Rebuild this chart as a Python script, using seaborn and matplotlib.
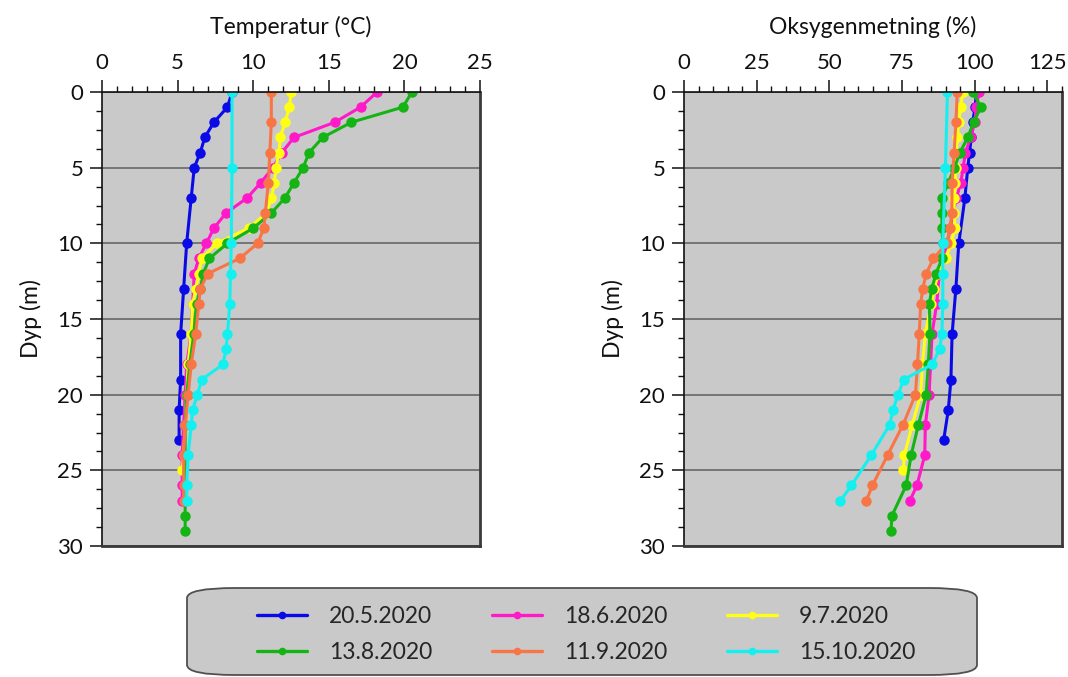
import numpy as np
import pandas as pd
import matplotlib
matplotlib.use("Agg")
import matplotlib.pyplot as plt
import seaborn as sns
from matplotlib.lines import Line2D
from matplotlib.patches import FancyBboxPatch
from matplotlib.ticker import MultipleLocator

# ---------------- data ----------------
dates = ["20.5.2020", "18.6.2020", "9.7.2020", "13.8.2020", "11.9.2020", "15.10.2020"]
colors = ["#0a0ae6", "#ff19c8", "#ffff14", "#14b414", "#f87646", "#14f0f0"]

depth_0520 = [0, 1, 2, 3, 4, 5, 7, 10, 13, 16, 19, 21, 23]
temp_0520 = [8.6, 8.3, 7.4, 6.8, 6.5, 6.1, 5.9, 5.6, 5.4, 5.2, 5.2, 5.1, 5.1]
oxy_0520 = [100.6, 100.1, 99.3, 98.8, 98.2, 97.6, 96.6, 94.5, 93.5, 92.2, 91.8, 90.9, 89.3]

depth_0618 = [0, 1, 2, 3, 4, 5, 6, 7, 8, 9, 10, 11, 12, 14, 16, 18, 20, 22, 24, 26, 27]
temp_0618 = [18.2, 17.1, 15.4, 12.7, 11.9, 11.3, 10.5, 9.6, 8.2, 7.4, 6.9, 6.4, 6.1, 6.0, 5.9,
             5.6, 5.5, 5.4, 5.3, 5.3, 5.3]
oxy_0618 = [101.4, 100.5, 100.0, 98.6, 96.8, 96.0, 95.2, 93.7, 92.5, 91.5, 90.5, 89.0, 87.8,
            86.9, 85.3, 84.8, 84.3, 83.0, 82.8, 80.1, 77.7]

depth_0709 = [0, 1, 2, 3, 4, 5, 6, 7, 8, 9, 10, 11, 12, 13, 14, 16, 18, 20, 22, 24, 25]
temp_0709 = [12.5, 12.4, 12.1, 11.8, 11.7, 11.5, 11.4, 11.2, 10.9, 9.7, 7.6, 6.6, 6.4, 6.2,
             6.0, 5.9, 5.7, 5.6, 5.5, 5.4, 5.3]
oxy_0709 = [95.9, 95.1, 94.5, 94.0, 93.7, 93.4, 93.2, 93.0, 92.9, 93.1, 91.9, 90.0, 87.5,
            86.0, 85.0, 83.0, 82.0, 81.4, 78.5, 75.8, 75.4]

depth_0813 = [0, 1, 2, 3, 4, 5, 6, 7, 8, 9, 10, 11, 12, 13, 14, 16, 18, 20, 22, 24, 26, 28, 29]
temp_0813 = [20.5, 19.9, 16.5, 14.6, 13.7, 13.3, 12.7, 12.1, 11.2, 10.0, 8.3, 7.1, 6.7, 6.5,
             6.25, 6.07, 5.8, 5.6, 5.5, 5.5, 5.5, 5.5, 5.5]
oxy_0813 = [99.4, 102.1, 99.6, 97.6, 94.9, 93.0, 90.9, 88.7, 88.7, 88.7, 89.0, 88.7, 86.7,
            85.2, 84.4, 84.6, 84.0, 83.3, 80.6, 78.1, 76.4, 71.5, 71.2]

depth_0911 = [0, 2, 4, 6, 8, 9, 10, 11, 12, 13, 14, 16, 18, 20, 22, 24, 26, 27]
temp_0911 = [11.2, 11.2, 11.1, 11.0, 10.8, 10.7, 10.3, 9.1, 7.0, 6.5, 6.4, 6.2, 5.9, 5.7,
             5.5, 5.4, 5.4, 5.4]
oxy_0911 = [94.0, 93.5, 92.9, 92.2, 92.1, 91.5, 90.4, 85.8, 83.3, 82.1, 81.4, 80.9, 80.3,
            79.6, 75.3, 70.0, 64.8, 62.7]

depth_1015 = [0, 5, 10, 12, 14, 16, 17, 18, 19, 20, 21, 22, 24, 26, 27]
temp_1015 = [8.6, 8.6, 8.55, 8.5, 8.45, 8.3, 8.2, 8.0, 6.6, 6.3, 6.0, 5.9, 5.7, 5.6, 5.6]
oxy_1015 = [90.6, 89.9, 89.0, 89.0, 89.0, 88.7, 87.9, 85.3, 75.6, 73.6, 71.9, 70.7, 64.4,
            57.6, 53.8]

x_titles = ["Temperatur (°C)", "Oksygenmetning (%)"]
y_title = "Dyp (m)"

# ---------------- build table ----------------
all_depths = [depth_0520, depth_0618, depth_0709, depth_0813, depth_0911, depth_1015]
all_temps = [temp_0520, temp_0618, temp_0709, temp_0813, temp_0911, temp_1015]
all_oxys = [oxy_0520, oxy_0618, oxy_0709, oxy_0813, oxy_0911, oxy_1015]

rows = []
for date, ds, ts, os_ in zip(dates, all_depths, all_temps, all_oxys):
    for d, t, o in zip(ds, ts, os_):
        rows.append({"date": date, "depth": d, "temp": t, "oxy": o})
df = pd.DataFrame(rows)
palette = dict(zip(dates, colors))

# ---------------- style ----------------
sns.set_style("ticks")
plt.rcParams["font.family"] = ["Lato", "DejaVu Sans"]

W, H = 1068, 677
fig = plt.figure(figsize=(W / 100, H / 100), dpi=100)
bg = "#c9c9c9"

ax1 = fig.add_axes([102 / W, 1 - 546 / H, 378 / W, 454 / H])
ax2 = fig.add_axes([684 / W, 1 - 546 / H, 378 / W, 454 / H])

settings = [
    (ax1, "temp", (0, 25), 5, 1, x_titles[0]),
    (ax2, "oxy", (0, 130), 25, 5, x_titles[1]),
]

for ax, col, xlim, major, minor, title in settings:
    sns.lineplot(data=df, x=col, y="depth", hue="date", hue_order=dates, palette=palette,
                 orient="y", estimator=None, marker="o", markersize=7.5,
                 markeredgewidth=0, linewidth=2.2, legend=False, ax=ax)
    ax.set_facecolor(bg)
    ax.set_xlim(*xlim)
    ax.set_ylim(30, 0)
    ax.xaxis.tick_top()
    ax.xaxis.set_label_position("top")
    ax.xaxis.set_minor_locator(MultipleLocator(minor))
    ax.set_xticks(np.arange(0, (125.1 if col == "oxy" else 25.1), major))
    ax.yaxis.set_major_locator(MultipleLocator(5))
    ax.yaxis.set_minor_locator(MultipleLocator(1.25))
    ax.tick_params(axis="x", which="both", top=True, bottom=False, labeltop=True,
                   labelbottom=False)
    ax.tick_params(which="major", length=8.5, width=1.1, direction="out",
                   labelsize=16, pad=5, color="#111111", labelcolor="#111111")
    ax.tick_params(which="minor", length=4.2, width=1.0, direction="out", color="#111111")
    ax.grid(axis="y", which="major", color="#5e5e5e", linewidth=1.1)
    ax.grid(axis="x", visible=False)
    ax.set_axisbelow(True)
    ax.set_xlabel(title, fontsize=16.5, labelpad=14, color="#111111")
    ax.set_ylabel(y_title, fontsize=16.5, labelpad=11, color="#111111")
    for side in ["top", "left"]:
        ax.spines[side].set_color("#111111")
        ax.spines[side].set_linewidth(1.2)
    for side in ["right", "bottom"]:
        ax.spines[side].set_color("#3a3a3a")
        ax.spines[side].set_linewidth(2.0)

# ---------------- legend ----------------
box_l, box_r, box_t, box_b = 187, 977, 588, 675
box = FancyBboxPatch((box_l / W, 1 - box_b / H), (box_r - box_l) / W, (box_b - box_t) / H,
                     boxstyle="round,pad=0,rounding_size=0.045", mutation_aspect=0.33,
                     transform=fig.transFigure, facecolor=bg, edgecolor="#505050",
                     linewidth=1.3, zorder=0)
fig.patches.append(box)

order = [0, 3, 1, 4, 2, 5]
handles = [Line2D([], [], color=colors[i], linewidth=2.4, marker="o", markersize=5.5,
                  markeredgewidth=0) for i in order]
labels = [dates[i] for i in order]
fig.legend(handles, labels, ncol=3, loc="center",
           bbox_to_anchor=(586 / W, 1 - 634.5 / H), frameon=False, fontsize=16.5,
           handlelength=2.2, handletextpad=0.95, columnspacing=2.6, labelspacing=0.62)

fig.savefig("out.png", dpi=100)
